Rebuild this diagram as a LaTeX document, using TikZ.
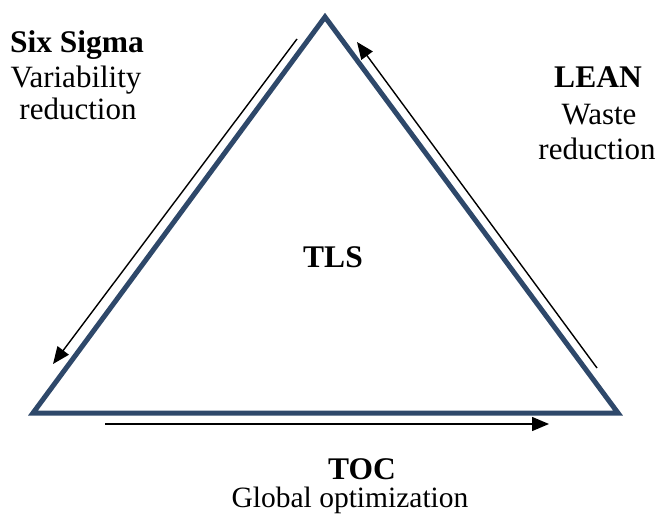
\documentclass[tikz,border=0pt]{standalone}
\usepackage{fontspec}
\setmainfont{Liberation Serif}
\usetikzlibrary{arrows.meta}
\definecolor{frame}{RGB}{46,72,106}
\begin{document}
\begin{tikzpicture}[x=1pt,y=-1pt,
  lbl/.style={font=\fontsize{31}{35}\selectfont, inner sep=0pt, anchor=base},
  bold/.style={lbl, font=\fontsize{31.5}{35}\selectfont\bfseries},
  flow/.style={line width=1.4pt, -{Triangle[length=17pt,width=14pt]}}]
\useasboundingbox (0,0) rectangle (659,521);
% triangle
\coordinate (T) at (325,17);
\coordinate (L) at (33,413);
\coordinate (R) at (618,413);
\draw[frame, line width=5pt, line join=miter] (T) -- (L) -- (R) -- cycle;
% flow arrows along the sides
\coordinate (a1) at (297,39);
\coordinate (a2) at (53,364);
\coordinate (b1) at (597,368);
\coordinate (b2) at (357,42);
\coordinate (c1) at (105,424);
\coordinate (c2) at (549,424);
\draw[flow] (a1) -- (a2);
\draw[flow] (b1) -- (b2);
\draw[flow] (c1) -- (c2);
% labels
\node[bold] (ss) at (77,53) {Six Sigma};
\node[lbl] (ss1) at (76,88) {Variability};
\node[lbl] (ss2) at (78,120) {reduction};
\node[bold] (ln) at (598,88) {LEAN};
\node[lbl] (ln1) at (599,125) {Waste};
\node[lbl] (ln2) at (597,160) {reduction};
\node[bold] (tls) at (333,268) {TLS};
\node[bold] (toc) at (362,479) {TOC};
\node[lbl, font=\fontsize{29.5}{35}\selectfont] (toc1) at (350,507) {Global optimization};
\end{tikzpicture}
\end{document}
